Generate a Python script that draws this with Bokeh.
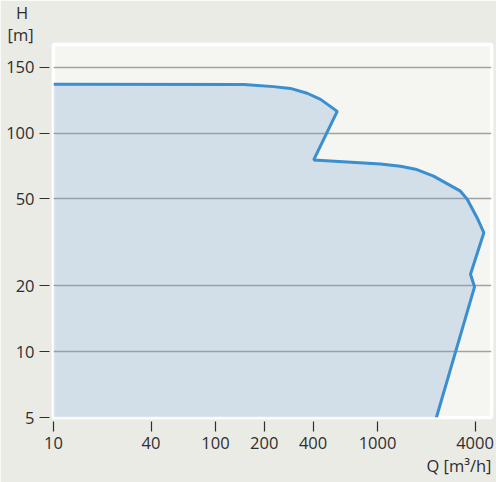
from bokeh.plotting import figure
from bokeh.models import FixedTicker, Title
from bokeh.embed import file_html
from bokeh.resources import INLINE

# Pump performance envelope (Q in m3/h, H in m)
flow_q = [10, 150, 228, 290, 368, 445, 564, 404, 1044, 1387, 1718, 2218,
          3252, 3579, 4124, 4532, 3750, 3971, 2310]
head_h = [167, 166.5, 163, 160, 152, 142.5, 125.6, 75.3, 72.2, 70.5, 68.3, 63.5,
          54.2, 49.8, 40.9, 35.0, 22.6, 19.8, 5]

x_ticks = [10, 40, 100, 200, 400, 1000, 4000]
y_ticks = [5, 10, 20, 50, 100, 200]
y_tick_labels = {200: "150"}

X_MIN, X_MAX = 10, 5054
Y_MIN, Y_MAX = 5, 254

FONT = "Open Sans"
TXT = "#2e2e2e"
FS = "16.5px"

p = figure(width=496, height=482, x_axis_type="log", y_axis_type="log",
           x_range=(X_MIN, X_MAX), y_range=(Y_MIN, Y_MAX),
           output_backend="svg", toolbar_location=None,
           min_border_left=53, min_border_right=5, min_border_top=43,
           min_border_bottom=65)

p.background_fill_color = "#f5f5f1"
p.border_fill_color = "#ebebe6"
p.outline_line_color = "white"
p.outline_line_width = 3.5

# fill under the curve
px = flow_q + [X_MIN]
py = head_h + [Y_MIN]
p.patch(px, py, fill_color="#6b9dd1", fill_alpha=0.25, line_color=None)
p.line(flow_q, head_h, line_color="#3a8fd0", line_width=3)

p.xgrid.visible = False
p.ygrid.ticker = FixedTicker(ticks=[10, 20, 50, 100, 200])
p.ygrid.grid_line_color = "#a2a2a2"
p.ygrid.grid_line_width = 1.3

for ax in (p.xaxis[0], p.yaxis[0]):
    ax.axis_line_color = None
    ax.minor_tick_line_color = None
    ax.major_tick_line_color = TXT
    ax.major_tick_line_width = 1.2
    ax.major_tick_in = -4
    ax.major_tick_out = 14
    ax.major_label_text_font = FONT
    ax.major_label_text_font_size = FS
    ax.major_label_text_color = TXT

p.xaxis[0].ticker = FixedTicker(ticks=x_ticks)
p.xaxis[0].major_label_standoff = 5
p.yaxis[0].ticker = FixedTicker(ticks=y_ticks)
p.yaxis[0].major_label_overrides = y_tick_labels
p.yaxis[0].major_label_standoff = 5

def make_title(text, align, offset, lh=1.2, standoff=0):
    return Title(text=text, align=align, offset=offset, standoff=standoff,
                 text_font=FONT, text_font_size=FS, text_font_style="normal",
                 text_color=TXT, text_line_height=lh)

p.add_layout(make_title("\u00a0\u00a0H\n[m]", "left", -46, 0.95, -3), "above")
p.add_layout(make_title("Q [m³/h]", "right", 0), "below")

open("out.html", "w").write(file_html(p, INLINE))
